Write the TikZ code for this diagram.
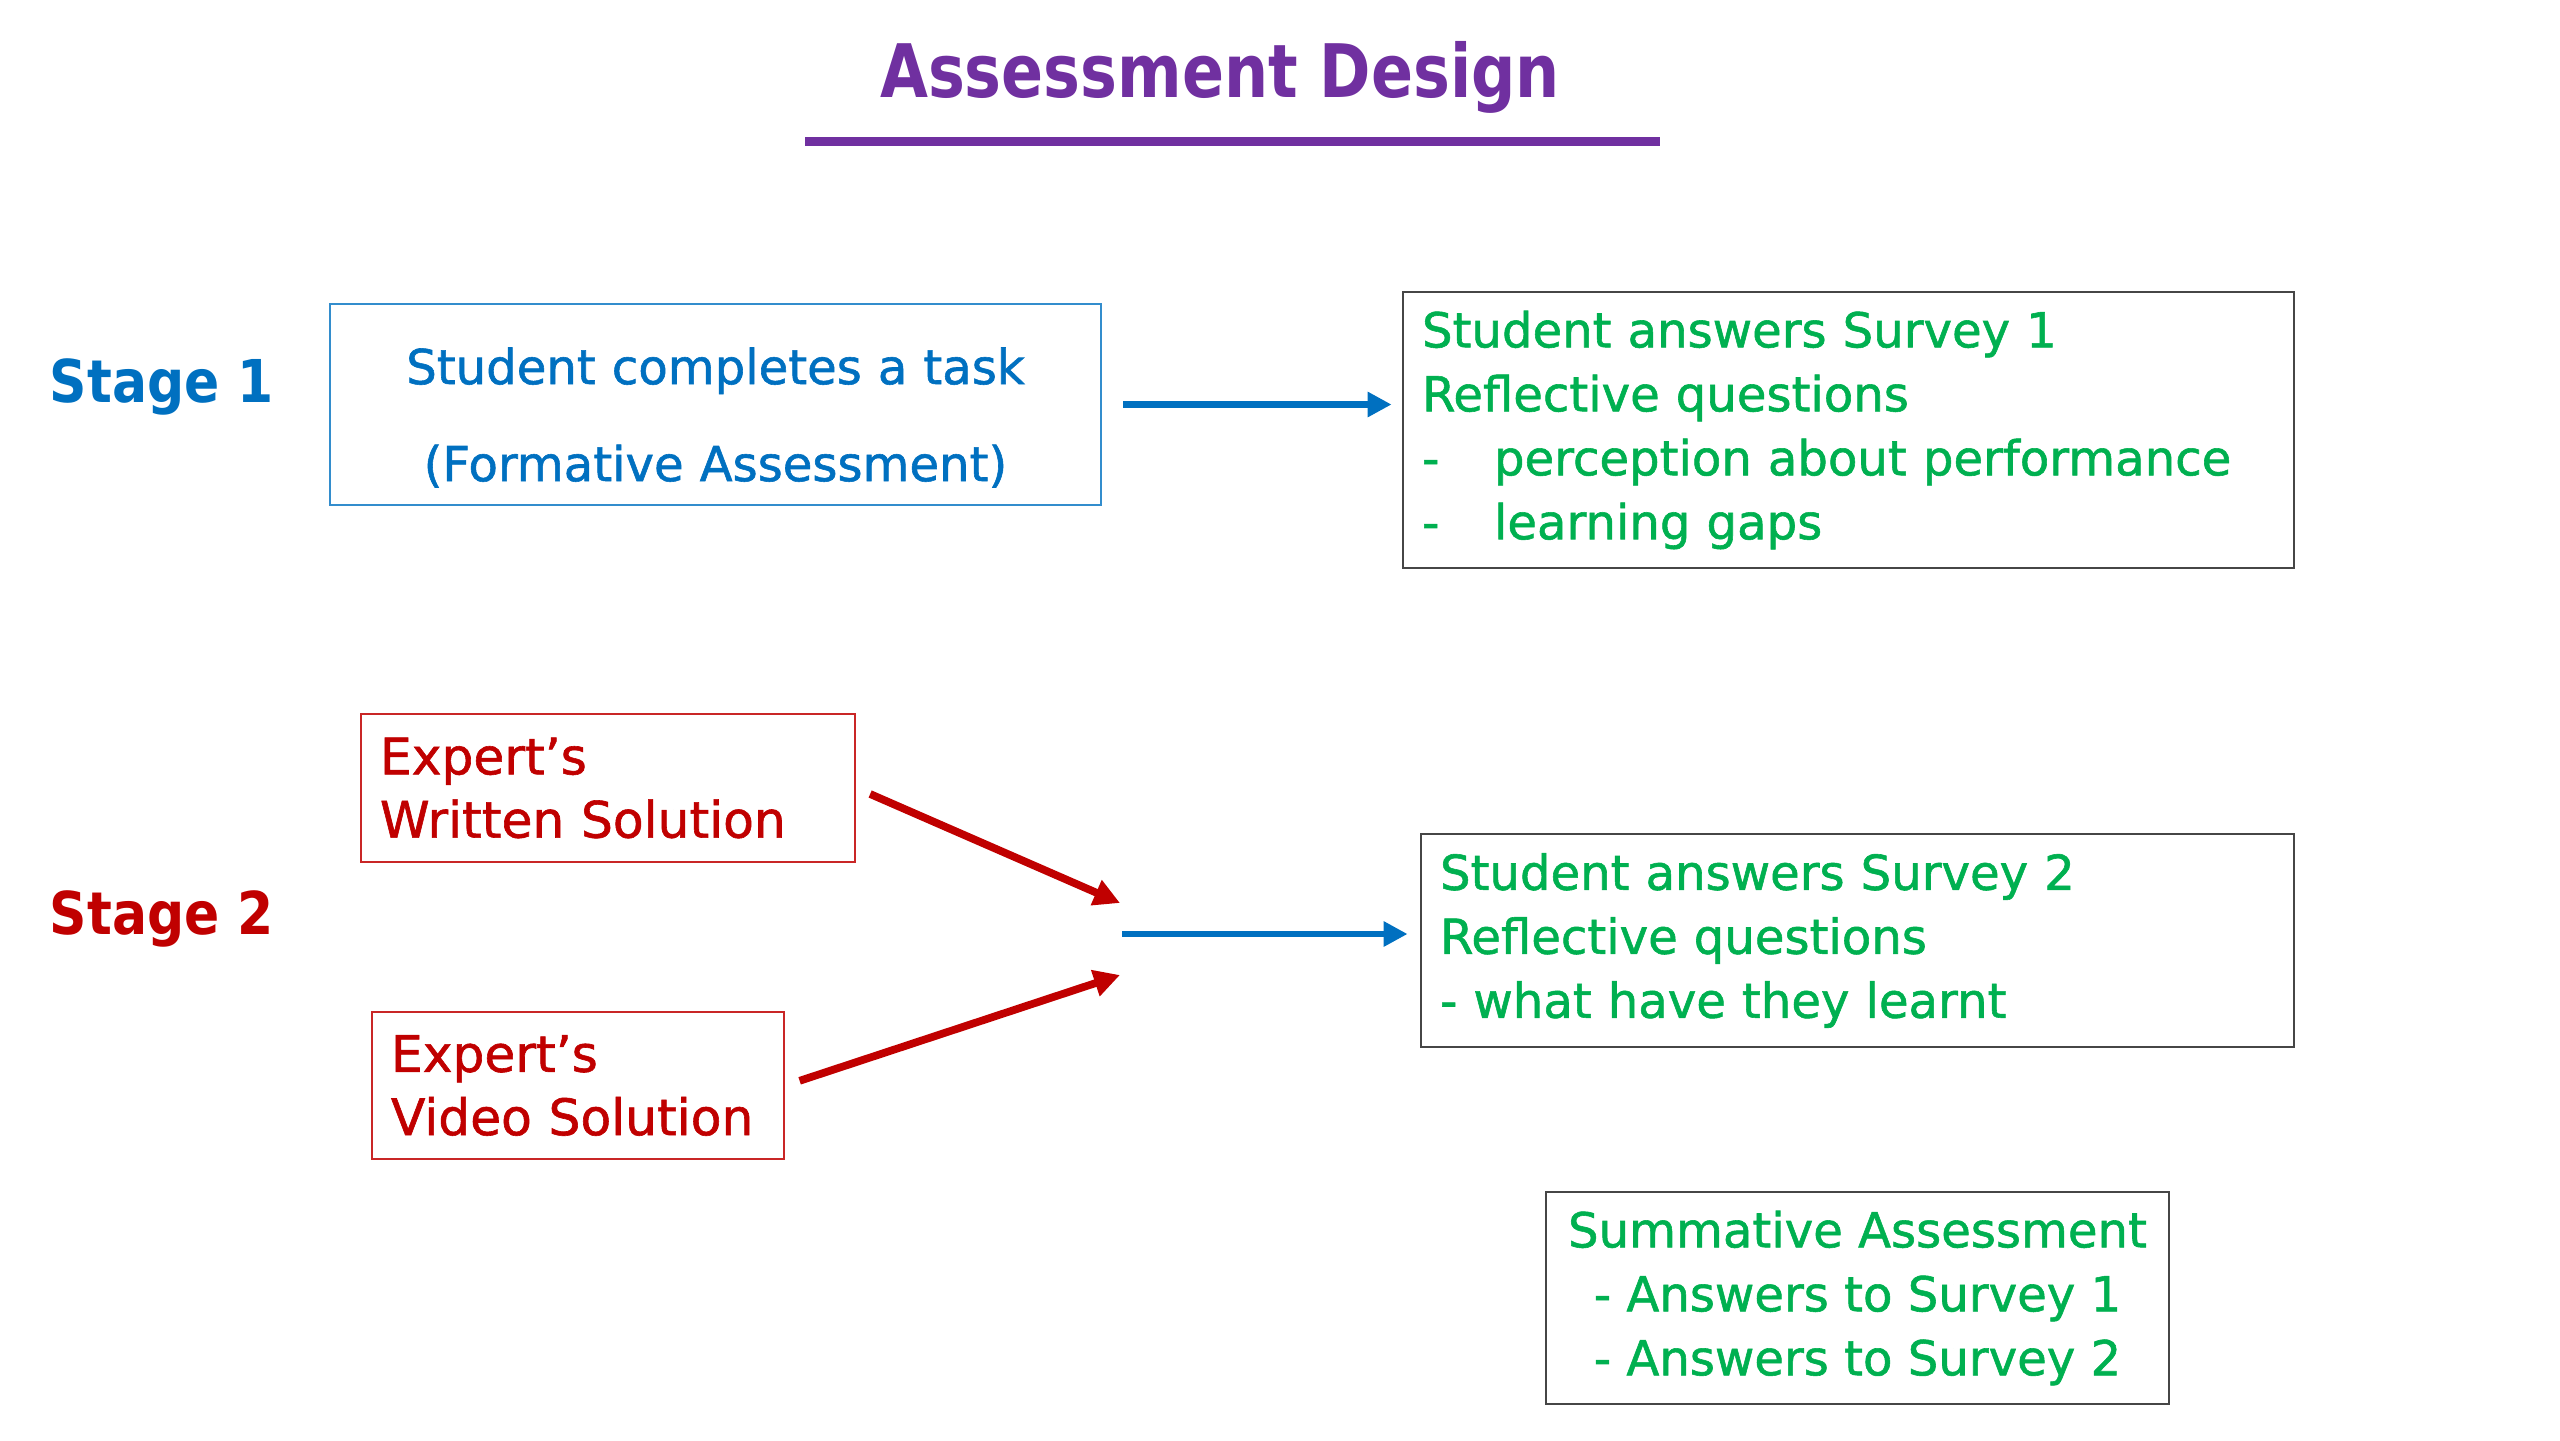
\documentclass[tikz,border=0pt]{standalone}
\usepackage{fontspec}
\setmainfont{DejaVu Sans}
\newfontfamily\bodyfont{DejaVu Sans}[FakeBold=1.2]
\newfontfamily\titlefont{DejaVu Sans}[FakeStretch=0.84]
\newfontfamily\stagefont{DejaVu Sans}[FakeStretch=0.88]
\usepackage{xcolor}
\usepackage{tikz}
\usetikzlibrary{positioning,arrows.meta,calc}
\definecolor{titlepurple}{RGB}{112,48,160}
\definecolor{stageblue}{RGB}{0,112,192}
\definecolor{stagegreen}{RGB}{0,176,80}
\definecolor{stagered}{RGB}{192,0,0}
\definecolor{boxgray}{RGB}{70,70,70}
\tikzset{
  box/.style={draw, thick, inner xsep=0.19cm, inner ysep=0pt,
              font=\bodyfont\fontsize{13.7}{18.2}\selectfont},
  bluebox/.style={box, draw=stageblue!80, text=stageblue, align=center,
                  font=\bodyfont\fontsize{13.7}{27.6}\selectfont},
  greenbox/.style={box, draw=boxgray, text=stagegreen, align=left},
  redbox/.style={box, draw=stagered!85, text=stagered, align=left,
                 font=\bodyfont\fontsize{14.3}{18}\selectfont},
  stagelabel/.style={font=\stagefont\fontsize{16.8}{20}\selectfont\bfseries},
  arrow/.style={-{Triangle[length=0.24cm,width=0.24cm]}, line width=1.8pt, stageblue},
  redarrow/.style={-{Triangle[length=0.26cm,width=0.26cm]}, line width=2.2pt, stagered},
}
\newcommand{\dashitem}{\makebox[0.72cm][l]{-}}
\newcommand{\lowered}[1]{\raisebox{-0.13cm}[\height][\depth]{#1}}

\begin{document}
\begin{tikzpicture}
  \useasboundingbox (0,0) rectangle (25.6,-14.4);
  % title
  \node[text=titlepurple, font=\titlefont\fontsize{21}{24}\selectfont\bfseries] (title) at (12.2,-0.77) {Assessment Design};
  \coordinate (ulL) at (8.05,-1.41);
  \coordinate (ulR) at (16.6,-1.41);
  \draw[titlepurple, line width=0.09cm] (ulL) -- (ulR);

  % stage 1
  \node[stagelabel, text=stageblue] (st1) at (1.62,-3.87) {Stage 1};
  \node[bluebox, text width=7.33cm, minimum height=2.01cm] (task) at (7.155,-4.045)
    {\lowered{Student completes a task}\\\lowered{(Formative Assessment)}};
  \node[greenbox, text width=8.53cm, minimum height=2.76cm] (sv1) at (18.485,-4.30)
    {Student answers Survey 1\\Reflective questions\\\dashitem perception about performance\\\dashitem learning gaps};
  \draw[arrow, shorten <=0.21cm, shorten >=0.1cm] (task.east) -- (task.east -| sv1.west);

  % stage 2
  \node[stagelabel, text=stagered] (st2) at (1.62,-9.19) {Stage 2};
  \node[redbox, text width=4.56cm, minimum height=1.48cm] (written) at (6.08,-7.88)
    {Expert’s\\Written Solution};
  \node[redbox, text width=3.74cm, minimum height=1.47cm] (video) at (5.78,-10.855)
    {Expert’s\\Video Solution};
  \node[greenbox, text width=8.35cm, minimum height=2.13cm] (sv2) at (18.575,-9.405)
    {Student answers Survey 2\\Reflective questions\\- what have they learnt};
  \coordinate (hub) at (11.22,-9.34);
  \coordinate (hubtop) at (11.2,-9.03);
  \coordinate (hubbot) at (11.2,-9.75);
  \draw[redarrow, shorten <=0.15cm] (written.east) -- (hubtop);
  \draw[redarrow, shorten <=0.15cm] (video.east) -- (hubbot);
  \draw[arrow, shorten >=0.12cm] (hub) -- (hub -| sv2.west);

  % summative
  \node[greenbox, align=center, minimum width=6.23cm, minimum height=2.12cm] (summ) at (18.575,-12.98)
    {Summative Assessment\\- Answers to Survey 1\\- Answers to Survey 2};
\end{tikzpicture}
\end{document}
